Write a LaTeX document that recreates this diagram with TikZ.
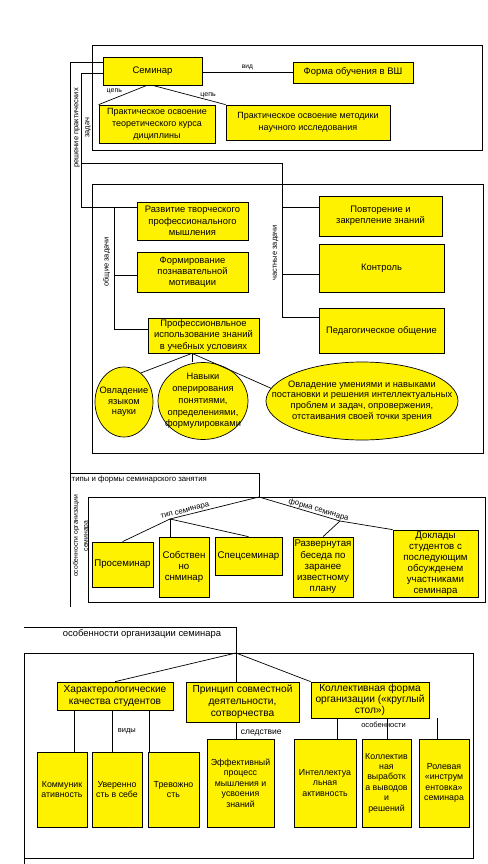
\documentclass[tikz,border=0pt]{standalone}
\usepackage{fontspec}
\setmainfont{Liberation Sans}
\usetikzlibrary{shapes.geometric,calc}
\tikzset{
  ybox/.style 2 args={
    rectangle, draw=black, fill=yellow, line width=0.7pt,
    minimum width=#1pt, minimum height=#2pt, inner sep=1pt, align=center
  },
  yell/.style 2 args={
    ellipse, draw=black, fill=yellow, line width=0.7pt,
    minimum width=#1pt, minimum height=#2pt,
    inner xsep=-40pt, inner ysep=-12pt, align=center
  },
  fs/.style 2 args={font=\fontsize{#1}{#2}\selectfont},
  conn/.style={draw=black, line width=0.7pt},
  lbl/.style={fs={7.5}{9}, inner sep=0.5pt},
  vlbl/.style={lbl, rotate=90, align=center}
}

\begin{document}
\begin{tikzpicture}[x=1pt, y=-1pt]
  \useasboundingbox (0,0) rectangle (487,864);

  % frames
  \draw[conn] (92,45) rectangle (482,150);
  \draw[conn] (92,184) rectangle (483,453);
  \draw[conn] (88,497) rectangle (485,602);
  \draw[conn] (24,653) rectangle (473,858);
  \draw[conn] (24,858) -- (24,864);

  % section 1
  \node[ybox={99}{28}, fs={9.5}{12}] (sem) at (152.5,71) {Семинар};
  \node[ybox={120}{21}, fs={9.5}{12}] (vsh) at (353,72.5) {Форма обучения в ВШ};
  \node[ybox={116}{38}, fs={9}{12}] (teor) at (157,124)
    {Практическое освоение\\теоретического курса\\дициплины};
  \node[ybox={164}{35}, fs={9}{12}] (metod) at (308,122.5)
    {Практическое освоение методики\\научного исследования};

  \draw[conn] (sem.east |- vsh.west) -- node[lbl, fs={6.6}{8}, above=2pt]{вид} (vsh.west);
  \draw[conn] (147,0 |- sem.south) -- node[lbl, fs={7}{8}, pos=0.5, above left=0pt]{цепь} (teor.north west);
  \draw[conn] (sem.south) -- node[lbl, fs={7}{8}, pos=0.76, above=1pt]{цепь} (metod.north west);

  % section 2
  \node[ybox={111}{38}, fs={9.4}{11.3}] (razv) at (192.5,221)
    {Развитие творческого\\профессионального\\мышления};
  \node[ybox={111}{40}, fs={9.4}{11.3}] (motiv) at (192.5,272)
    {Формирование\\познавательной\\мотивации};
  \node[ybox={111}{35}, fs={9.4}{11.3}] (prof) at (203.5,335.5)
    {Профессионвльное\\использование знаний\\в учебных условиях};
  \node[ybox={123}{40}, fs={9.4}{11.3}] (povt) at (380.5,216)
    {Повторение и\\закрепление знаний};
  \node[ybox={125}{48}, fs={9.4}{11.3}] (kontr) at (381.5,268) {Контроль};
  \node[ybox={125}{45}, fs={9.4}{11.3}] (ped) at (381.5,330.5) {Педагогическое общение};

  \node[yell={58}{70}, fs={9.3}{10.6}] (ell1) at (124,402) {Овладение\\языком\\науки};
  \node[yell={90}{77}, fs={9.3}{11.8}] (ell2) at (203,401)
    {Навыки\\оперирования\\понятиями,\\определениями,\\формулировками};
  \node[yell={192}{78}, fs={9.3}{10.6}] (ell3) at (362,401)
    {Овладение умениями и навыками\\постановки и решения интеллектуальных\\проблем и задач, опровержения,\\отстаивания своей точки зрения};

  \node[vlbl, fs={7.5}{11}] (lbl-pr) at (82.5,128) {решение практических\\задач};
  \node[vlbl] (lbl-ob) at (106.5,262) {общие задачи};
  \node[vlbl] (lbl-ch) at (275.5,253) {частные задачи};

  % routes from the seminar
  \coordinate (r1) at (70,62);
  \coordinate (r2) at (70,473);
  \coordinate (r3) at (70,607);
  \coordinate (root3) at (259,497);
  \draw[conn] (sem.west |- r1) -- (r1) -- (r3);
  \draw[conn] (r2) -- (r2 -| root3) -- (root3);

  \coordinate (b1) at (81,73);
  \coordinate (b2) at (81,207);
  \coordinate (b3) at (81,163);
  \coordinate (c1) at (282,163);
  \coordinate (c2) at (282,207);
  \coordinate (c3) at (282,274);
  \coordinate (c4) at (282,317);
  \draw[conn] (sem.west |- b1) -- (b1) -- (b2) -- (b2 -| razv.west);
  \draw[conn] (b3) -- (c1) -- (c4) -- (c4 -| ped.west);
  \draw[conn] (c2) -- (c2 -| povt.west);
  \draw[conn] (c3) -- (c3 -| kontr.west);

  \coordinate (g1) at (114,207);
  \coordinate (g2) at (114,275);
  \coordinate (g3) at (114,329);
  \draw[conn] (g1) -- (g3) -- (g3 -| prof.west);
  \draw[conn] (g2) -- (g2 -| motiv.west);

  \draw[conn] (192,0 |- prof.south) -- (ell1.60);
  \draw[conn] (192,0 |- prof.south) -- (192,0 |- ell2.north);
  \draw[conn] (192,0 |- prof.south) -- (ell3.172);

  % section 3
  \node[lbl, fs={7.8}{9}, anchor=west] (lbl-tf) at (71,479) {типы и формы семинарского занятия};
  \node[vlbl, fs={6.8}{10}] (lbl-os) at (81,536) {особенности организации\\семинара};

  \node[ybox={61}{45}, fs={9.7}{11.3}] (pros) at (122.5,564.5) {Просеминар};
  \node[ybox={50}{60}, fs={9.7}{11.3}] (sobst) at (184,567) {Собствен\\но\\снминар};
  \node[ybox={67}{38}, fs={9.7}{11.3}] (spec) at (248.5,556) {Спецсеминар};
  \node[ybox={60}{60}, fs={9.7}{11.3}] (razvb) at (323,567)
    {Развернутая\\беседа по\\заранее\\известному\\плану};
  \node[ybox={85}{67}, fs={9.7}{11}] (dokl) at (435.5,563.5)
    {Доклады\\студентов с\\последующим\\обсужденем\\участниками\\семинара};

  \coordinate (j1) at (170,519);
  \coordinate (j2) at (340,521);
  \draw[conn] (j1) -- (pros.north);
  \draw[conn] (j1) -- (j1 |- sobst.north);
  \draw[conn] (j1) -- (spec.north);
  \draw[conn] (j2) -- (razvb.north);
  \draw[conn] (j2) -- (dokl.north west);
  \draw[conn] (root3) -- node[lbl, fs={7.8}{9}, sloped, above, pos=0.82]{тип семинара} (j1);
  \draw[conn] (root3) -- node[lbl, fs={7.8}{9}, sloped, above, pos=0.72]{форма семинара} (j2);

  % section 4
  \coordinate (h1) at (24,627);
  \coordinate (root4) at (236,653);
  \draw[conn] (h1) -- (h1 -| root4) -- (root4);
  \node[lbl, fs={9.4}{11}] (lbl-org) at (142,634) {особенности организации семинара};

  \node[ybox={116}{28}, fs={10.2}{12}] (har) at (115,696)
    {Характерологические\\качества студентов};
  \node[ybox={113}{40}, fs={10.2}{12}] (prin) at (242.5,702)
    {Принцип совместной\\деятельности,\\сотворчества};
  \node[ybox={118}{36}, fs={10.2}{11}] (koll) at (370,700)
    {Коллективная форма\\организации («круглый\\стол»)};

  \node[ybox={50}{75}, fs={8.8}{10.4}] (komm) at (62,789.5) {Коммуник\\ативность};
  \node[ybox={50}{75}, fs={8.8}{10.4}] (uver) at (117,789.5) {Уверенно\\сть в себе};
  \node[ybox={51}{75}, fs={8.8}{10.4}] (trev) at (173.5,789.5) {Тревожно\\сть};
  \node[ybox={67}{88}, fs={8.8}{10.4}] (eff) at (240.5,783)
    {Эффективный\\процесс\\мышления и\\усвоения\\знаний};
  \node[ybox={62}{88}, fs={8.8}{10.4}] (intel) at (325,783)
    {Интеллектуа\\льная\\активность};
  \node[ybox={49}{88}, fs={8.8}{10.4}] (kollv) at (386.5,783)
    {Коллектив\\ная\\выработк\\а выводов\\и\\решений};
  \node[ybox={50}{88}, fs={8.8}{10.4}] (role) at (444,783)
    {Ролевая\\«инструм\\ентовка»\\семинара};

  \draw[conn] (root4) -- (har.north);
  \draw[conn] (root4) -- (root4 |- prin.north);
  \draw[conn] (root4) -- (koll.north west);

  \draw[conn] (74,0 |- har.south) -- (74,0 |- komm.north);
  \draw[conn] (112,0 |- har.south) -- node[lbl, right=5pt]{виды} (112,0 |- uver.north);
  \draw[conn] (149,0 |- har.south) -- (149,0 |- trev.north);
  \draw[conn] (root4 |- prin.south) -- node[lbl, fs={8.5}{10}, right=4pt, pos=0.65]{следствие} (root4 |- eff.north);
  \draw[conn] (337,0 |- koll.south) -- (337,0 |- intel.north);
  \draw[conn] (387,0 |- koll.south) -- node[lbl, pos=0.33, xshift=-3.5pt]{особенности} (387,0 |- kollv.north);
  \draw[conn] (437,0 |- koll.south) -- (437,0 |- role.north);
\end{tikzpicture}
\end{document}
